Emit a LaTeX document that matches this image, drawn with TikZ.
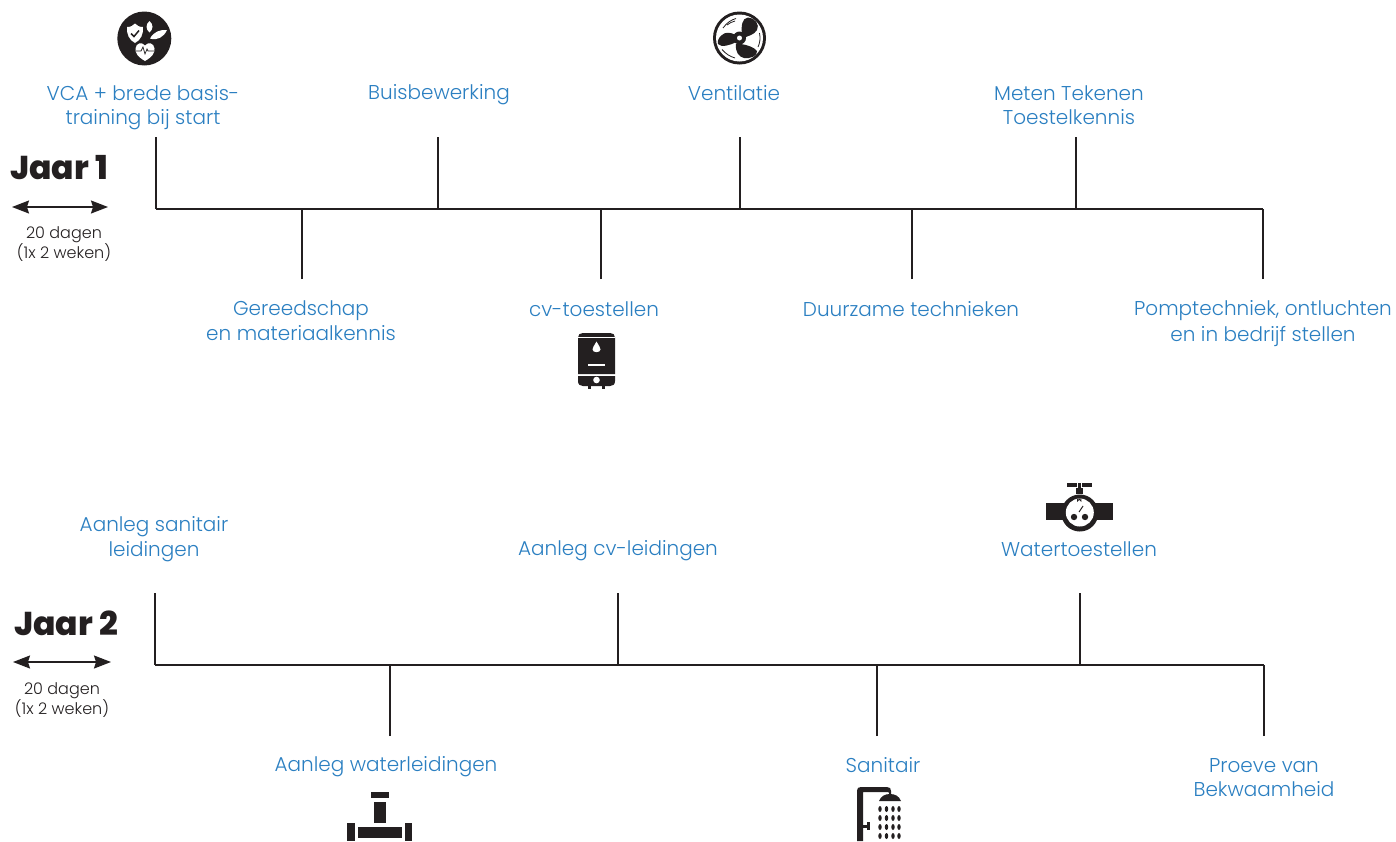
\documentclass[tikz,border=0pt]{standalone}
\usepackage{fontspec}
\setmainfont{Poppins Light}
\newfontfamily\headfont{Poppins ExtraBold}
\usetikzlibrary{arrows.meta}
\definecolor{lab}{HTML}{2B7FC1}
\definecolor{ink}{HTML}{231F20}
\newcommand{\st}{\rule[-5pt]{0pt}{24pt}}
\tikzset{
  x=1pt,y=-1pt,
  lab/.style={text=lab,align=center,inner sep=0pt,font=\fontsize{20}{24}\selectfont},
  small/.style={text=ink,align=center,inner sep=0pt,font=\fontsize{16}{20}\selectfont},
  head/.style={text=ink,inner sep=0pt,font=\headfont\fontsize{33}{35}\selectfont},
  rule/.style={draw=ink,line width=1.5pt},
  span/.style={draw=ink,line width=1.4pt,{Stealth[length=17pt,width=13pt,inset=2pt]}-{Stealth[length=17pt,width=13pt,inset=2pt]}},
  ic/.style={fill=ink,draw=none},
  icw/.style={fill=white,draw=none}
}
\begin{document}
\begin{tikzpicture}
\useasboundingbox (0,0) rectangle (1396,841);
% Year 1 labels
\node[lab] (a1) at (143,105.5) {\st VCA + brede basis-\\\st training bij start};
\node[lab] (a2) at (439,93) {\st Buisbewerking};
\node[lab] (a3) at (734,93) {\st Ventilatie};
\node[lab] (a4) at (1069,105) {\st Meten Tekenen\\\st Toestelkennis};
\node[lab] (b1) at (301,321) {\st Gereedschap\\\st en materiaalkennis};
\node[lab] (b2) at (594,309) {\st cv-toestellen};
\node[lab] (b3) at (911,309) {\st Duurzame technieken};
\node[lab] (b4) at (1263,321.5) {\st Pomptechniek, ontluchten\\\st en in bedrijf stellen};
% Year 2 labels
\node[lab] (c1) at (154,537) {\st Aanleg sanitair\\\st leidingen};
\node[lab] (c2) at (618,549) {\st Aanleg cv-leidingen};
\node[lab] (c3) at (1079,549) {\st Watertoestellen};
\node[lab] (d1) at (386,765) {\st Aanleg waterleidingen};
\node[lab] (d2) at (883,765) {\st Sanitair};
\node[lab] (d3) at (1264,777) {\st Proeve van\\\st Bekwaamheid};
% Year headers
\node[head] (j1) at (59,168) {Jaar 1};
\node[head] (j2) at (66,623) {Jaar 2};
\node[small] (s1) at (64,244) {20 dagen\\(1x 2 weken)};
\node[small] (s2) at (62,700) {20 dagen\\(1x 2 weken)};
\coordinate (l1) at (12,207); \coordinate (r1) at (108,207);
\coordinate (l2) at (13,662); \coordinate (r2) at (111,662);
\draw[span] (l1) -- (r1);
\draw[span] (l2) -- (r2);
% Year 1 timeline
\coordinate (sa) at (156,209); \coordinate (sb) at (1263,209);
\coordinate (ua1) at (156,137); \coordinate (ua2) at (438,137); \coordinate (ua3) at (740,137); \coordinate (ua4) at (1076,137);
\coordinate (db1) at (302,279); \coordinate (db2) at (601,279); \coordinate (db3) at (912,279); \coordinate (db4) at (1263,279);
\draw[rule] (sa) -- (sb);
\foreach \n in {ua1,ua2,ua3,ua4,db1,db2,db3,db4} \draw[rule] (\n) -- (\n |- sa);
% Year 2 timeline
\coordinate (ta) at (155,665); \coordinate (tb) at (1264,665);
\coordinate (uc1) at (155,593); \coordinate (uc2) at (618,593); \coordinate (uc3) at (1080,593);
\coordinate (dd1) at (390,736); \coordinate (dd2) at (877,736); \coordinate (dd3) at (1264,736);
\draw[rule] (ta) -- (tb);
\foreach \n in {uc1,uc2,uc3,dd1,dd2,dd3} \draw[rule] (\n) -- (\n |- ta);
% Icon: health/safety
\fill[ic] (144.3,38.5) circle (27);
\fill[icw] (127,27) .. controls (131,27) and (133,25.5) .. (135,23.5) .. controls (137,25.5) and (139,27) .. (143,27) .. controls (143.5,34) and (141,40) .. (135,43) .. controls (129,40) and (126.5,34) .. (127,27) -- cycle;
\draw[ink,line width=1.5pt] (131,33.5) -- (134,36.5) -- (139,30.5);
\fill[icw] (149.5,21) .. controls (145.5,24.5) and (145.5,29) .. (149.5,32.5) .. controls (153.5,29) and (153.5,24.5) .. (149.5,21) -- cycle;
\fill[icw] (150,38.5) .. controls (154,31.5) and (160,29.5) .. (167,30) .. controls (164,37) and (157,41) .. (150,38.5) -- cycle;
\fill[icw] (145,61) .. controls (138,57) and (135,53) .. (135.5,48.5) .. controls (136,43) and (142,41.5) .. (145,45.5) .. controls (148,41.5) and (154,43) .. (154.5,48.5) .. controls (155,53) and (152,57) .. (145,61) -- cycle;
\draw[ink,line width=.7pt] (136,51) -- (141,51) -- (143,47) -- (145,54) -- (147,49) -- (148,51) -- (154,51);
% Icon: fan
\fill[ic] (739.5,38) circle (26.5);
\fill[icw] (739.5,38) circle (23.5);
\fill[ic] (742,34) .. controls (741,26) and (742,18) .. (748,17.5) .. controls (755,17.5) and (760,25) .. (757,30) .. controls (754,35) and (748,36) .. (743,38) -- cycle;
\fill[ic] (736,35) .. controls (730,32) and (725,32) .. (722,35) .. controls (719,37) and (717,41) .. (718,44) .. controls (721,48) and (731,45) .. (736,42) -- cycle;
\fill[ic] (741,44) .. controls (747,45) and (754,47) .. (757,51) .. controls (758,56) and (750,59) .. (744,58) .. controls (739,57) and (735,52) .. (736,44) -- cycle;
\fill[ic] (739.5,38) circle (6.5);
\fill[icw] (739.5,38) circle (2.5);
\draw[ink,line width=.8pt] (723,28) .. controls (727,22.5) and (731,20) .. (736,18.5);
\draw[ink,line width=.8pt] (727,25) .. controls (729,23) and (732,22) .. (735,21);
\draw[ink,line width=.8pt] (759.5,33) .. controls (760.5,38) and (760,43) .. (758,47);
\draw[ink,line width=.8pt] (722,49.5) .. controls (726,54) and (730,56.5) .. (735,58);
% Icon: boiler
\fill[ic] (578,337.5) .. controls (578,334.5) and (580,333) .. (583,333) -- (610,333) .. controls (613,333) and (615,334.5) .. (615,337.5) -- (615,374) -- (578,374) -- cycle;
\fill[ic] (578,376) -- (615,376) -- (615,381) .. controls (615,384.5) and (613,386) .. (610,386) -- (583,386) .. controls (580,386) and (578,384.5) .. (578,381) -- cycle;
\fill[ic] (588,386) rectangle (591,388.5); \fill[ic] (602,386) rectangle (605,388.5);
\draw[white,line width=.7pt] (578,337.5) -- (615,337.5);
\fill[icw] (596.5,341.5) .. controls (594,346) and (592.5,347.5) .. (592.5,349.5) .. controls (592.5,353) and (600.5,353) .. (600.5,349.5) .. controls (600.5,347.5) and (599,346) .. (596.5,341.5) -- cycle;
\fill[icw] (587.5,364) rectangle (605,366);
\fill[icw] (596.5,380) circle (3.3);
% Icon: water meter
\fill[ic] (1046,503) rectangle (1113,520);
\fill[ic] (1079.8,513) circle (18.5);
\fill[icw] (1079.8,512.5) circle (14);
\fill[ic] (1067,483) rectangle (1077,486.5); \fill[ic] (1082,483) rectangle (1092,486.5);
\fill[ic] (1078,482.5) rectangle (1081,490);
\fill[ic] (1076,488) rectangle (1083,494);
\fill[ic] (1074,517) circle (3.2); \fill[ic] (1085,517) circle (3.2);
\draw[ink,line width=1pt] (1079,512) -- (1083,506);
\draw[ink,line width=.8pt] (1077.6,499) -- (1077.6,501) arc[start angle=180,end angle=360,radius=1.7] -- (1081,499);
% Icon: pipe T
\fill[ic] (371,791.5) rectangle (388.5,798);
\fill[ic] (374,802) rectangle (385.5,822.5);
\fill[ic] (347,823) rectangle (354.5,841);
\fill[ic] (358,826.5) rectangle (401.5,838);
\fill[ic] (405,823) rectangle (412,841);
% Icon: shower
\fill[ic] (857,841) -- (857,790.5) .. controls (857,788) and (858.5,787) .. (861,787) -- (887,787) .. controls (890,787) and (891,788.5) .. (891,791) -- (891,795) -- (889,795) -- (889,793) .. controls (889,792) and (888,792) .. (887,792) -- (863,792) -- (863,841) -- cycle;
\fill[ic] (879,801) .. controls (881,796) and (885,794) .. (890,794) .. controls (895,794) and (899,796) .. (901,801) -- cycle;
\fill[ic] (863,824.5) rectangle (867,827.5);
\fill[ic] (866.5,822) rectangle (869.5,830);
\foreach \x in {880,886.5,893,899} \foreach \y in {809,818,827,836}
  \fill[ic] (\x,\y) ellipse (1.7 and 3);
\end{tikzpicture}
\end{document}
